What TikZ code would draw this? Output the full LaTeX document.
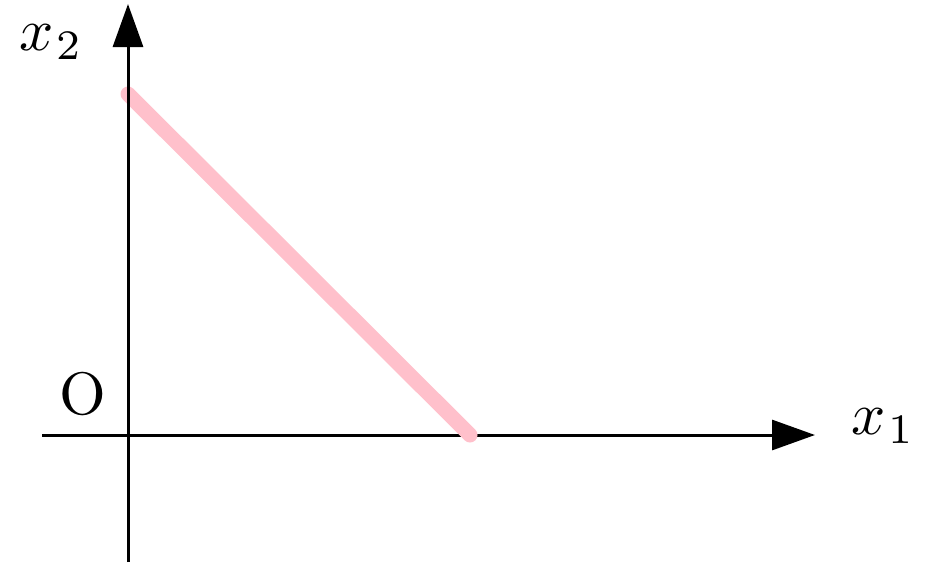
\documentclass[tikz,border=0pt]{standalone}
\usetikzlibrary{arrows.meta}
\begin{document}
\begin{tikzpicture}[x=1pt,y=-1pt,
  axis/.style={line width=3pt,-{Triangle[length=43pt,width=30pt]}},
  seg/.style={line width=15pt,color={rgb,255:red,255;green,192;blue,203},line cap=round},
  lab/.style={scale=6,inner sep=0pt}]
\useasboundingbox (0,0) rectangle (928,563);
\coordinate (xs) at (42,435);
\coordinate (xe) at (815,435);
\coordinate (ys) at (128,562);
\coordinate (ye) at (128,4);
\coordinate (p) at (128,94);
\coordinate (q) at (470,435);
\draw[axis] (xs) -- (xe);
\draw[seg] (p) -- (q);
\draw[axis] (ys) -- (ye);
\node[lab] (x2) at (51,42) {$x_{\mkern1mu 2}$};
\node[lab] (x1) at (883,426) {$x_{\mkern1mu 1}$};
\node[lab] (o) at (83,394) {O};
\end{tikzpicture}
\end{document}
